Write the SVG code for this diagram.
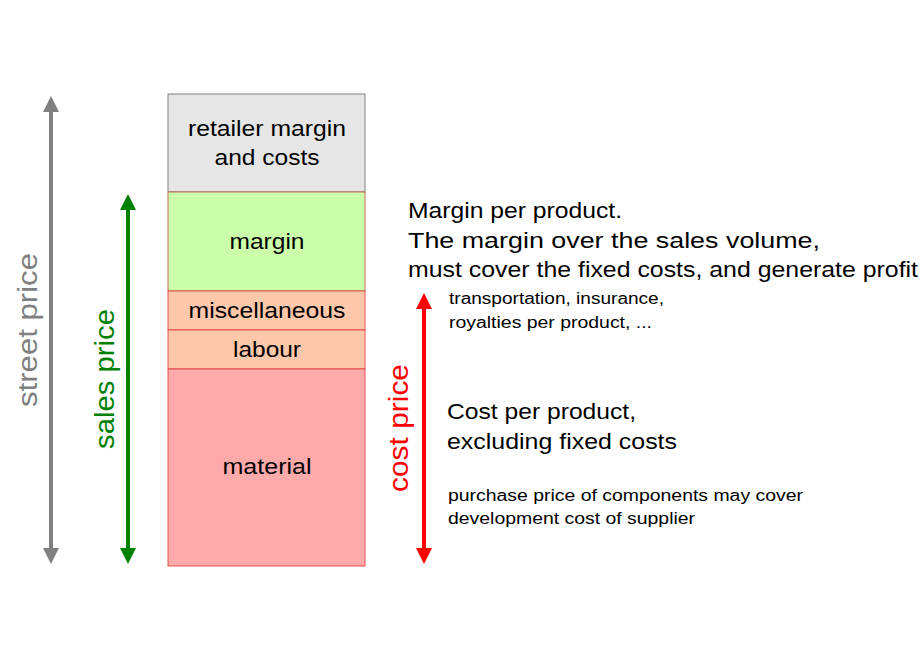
<svg xmlns="http://www.w3.org/2000/svg" width="920" height="660" viewBox="0 0 920 660">
<style>
text{font-family:"Liberation Sans",Arial,sans-serif;fill:#000}
.b{font-size:22px}
.s{font-size:16px}
.v{font-size:27px}
.lbl{font-size:22px;text-anchor:middle}
</style>
<defs>
<marker id="ag" viewBox="0 0 10 10" refX="5" refY="5" markerWidth="4" markerHeight="6" orient="auto-start-reverse" markerUnits="strokeWidth"><path d="M0,0L10,5L0,10z" fill="#808080"/></marker>
<marker id="an" viewBox="0 0 10 10" refX="5" refY="5" markerWidth="4" markerHeight="6" orient="auto-start-reverse" markerUnits="strokeWidth"><path d="M0,0L10,5L0,10z" fill="#008000"/></marker>
<marker id="ar" viewBox="0 0 10 10" refX="5" refY="5" markerWidth="4" markerHeight="6" orient="auto-start-reverse" markerUnits="strokeWidth"><path d="M0,0L10,5L0,10z" fill="#ff0000"/></marker>
</defs>
<rect width="920" height="660" fill="#fff"/>
<g id="retailer"><rect x="168" y="94" width="197" height="98" fill="#e6e6e6" stroke="#808080"/><text class="lbl" x="267" y="136" textLength="158" lengthAdjust="spacingAndGlyphs">retailer margin</text><text class="lbl" x="267" y="165" textLength="105" lengthAdjust="spacingAndGlyphs">and costs</text></g>
<g id="margin"><rect x="168" y="192" width="197" height="99" fill="#ccffaa" stroke="#cc4444" stroke-width="0.8"/><text class="lbl" x="267" y="249" textLength="75" lengthAdjust="spacingAndGlyphs">margin</text></g>
<g id="misc"><rect x="168" y="291" width="197" height="39" fill="#ffc8aa" stroke="#dd3333" stroke-width="0.8"/><text class="lbl" x="267" y="318" textLength="157" lengthAdjust="spacingAndGlyphs">miscellaneous</text></g>
<g id="labour"><rect x="168" y="330" width="197" height="39" fill="#ffc8aa" stroke="#dd3333" stroke-width="0.8"/><text class="lbl" x="267" y="357" textLength="68" lengthAdjust="spacingAndGlyphs">labour</text></g>
<g id="material"><rect x="168" y="369" width="197" height="197" fill="#ffaaaa" stroke="#dd3333" stroke-width="0.8"/><text class="lbl" x="267" y="474" textLength="89" lengthAdjust="spacingAndGlyphs">material</text></g>
<g id="connectors">
<line x1="51" y1="104" x2="51" y2="556" stroke="#808080" stroke-width="4" marker-start="url(#ag)" marker-end="url(#ag)"/>
<line x1="128" y1="202" x2="128" y2="556" stroke="#008000" stroke-width="4" marker-start="url(#an)" marker-end="url(#an)"/>
<line x1="424" y1="301" x2="424" y2="556" stroke="#ff0000" stroke-width="4" marker-start="url(#ar)" marker-end="url(#ar)"/>
</g>
<text class="v" transform="translate(37,330) rotate(-90)" text-anchor="middle" textLength="154" lengthAdjust="spacingAndGlyphs" style="fill:#808080">street price</text>
<text class="v" transform="translate(114,379) rotate(-90)" text-anchor="middle" textLength="140" lengthAdjust="spacingAndGlyphs" style="fill:#008000">sales price</text>
<text class="v" transform="translate(408,428) rotate(-90)" text-anchor="middle" textLength="128" lengthAdjust="spacingAndGlyphs" style="fill:#ff0000">cost price</text>
<text class="b" x="408" y="218" textLength="214" lengthAdjust="spacingAndGlyphs">Margin per product.</text>
<text class="b" x="408" y="248" textLength="412" lengthAdjust="spacingAndGlyphs">The margin over the sales volume,</text>
<text class="b" x="408" y="277" textLength="510" lengthAdjust="spacingAndGlyphs">must cover the fixed costs, and generate profit</text>
<text class="s" x="449" y="304" textLength="215" lengthAdjust="spacingAndGlyphs">transportation, insurance,</text>
<text class="s" x="449" y="328" textLength="203" lengthAdjust="spacingAndGlyphs">royalties per product, ...</text>
<text class="b" x="447" y="419" textLength="189" lengthAdjust="spacingAndGlyphs">Cost per product,</text>
<text class="b" x="447" y="449" textLength="230" lengthAdjust="spacingAndGlyphs">excluding fixed costs</text>
<text class="s" x="448" y="501" textLength="355" lengthAdjust="spacingAndGlyphs">purchase price of components may cover</text>
<text class="s" x="448" y="524" textLength="247" lengthAdjust="spacingAndGlyphs">development cost of supplier</text>
</svg>
